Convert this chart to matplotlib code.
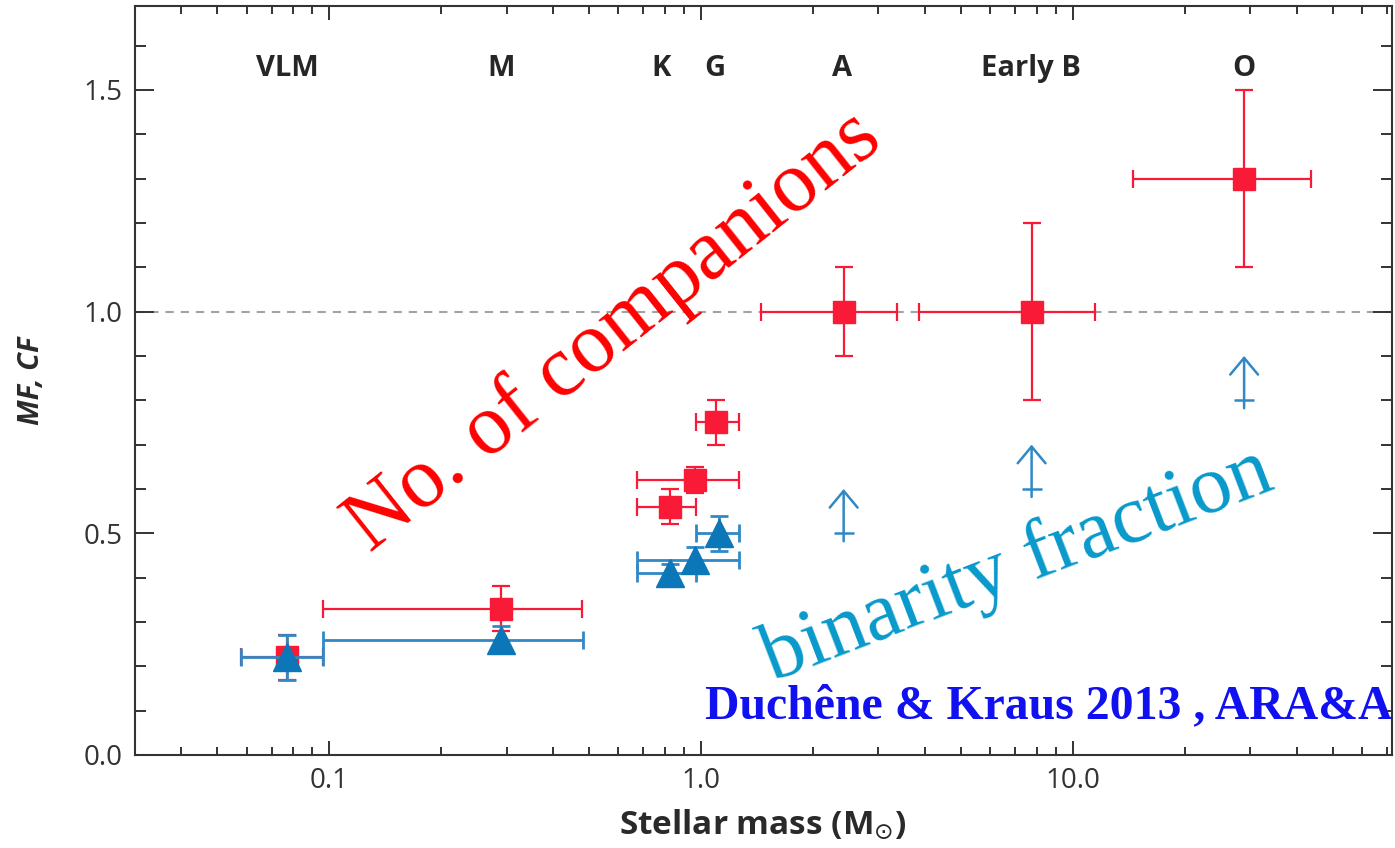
import numpy as np
import matplotlib.pyplot as plt
from matplotlib.ticker import LogLocator, NullFormatter, MultipleLocator

plt.rcParams['font.family'] = ['Open Sans', 'DejaVu Sans']

# spectral classes written along the top of the panel
class_names = ['VLM', 'M', 'K', 'G', 'A', 'Early B', 'O']
class_mass = [0.077, 0.29, 0.78, 1.09, 2.4, 7.7, 28.9]

# companion frequency CF (red squares)
cf_mass = [0.077, 0.29, 0.823, 0.965, 1.10, 2.42, 7.75, 28.9]
cf_mass_lo = [0.058, 0.096, 0.673, 0.673, 0.969, 1.45, 3.87, 14.5]
cf_mass_hi = [0.096, 0.48, 0.969, 1.267, 1.267, 3.37, 11.5, 43.8]
cf = [0.22, 0.33, 0.56, 0.62, 0.75, 1.00, 1.00, 1.30]
cf_err = [0.05, 0.05, 0.04, 0.03, 0.05, 0.10, 0.20, 0.20]

# multiplicity frequency MF (blue triangles)
mf_mass = [0.077, 0.29, 0.823, 0.965, 1.115]
mf_mass_lo = [0.058, 0.096, 0.673, 0.673, 0.969]
mf_mass_hi = [0.096, 0.483, 0.969, 1.267, 1.267]
mf = [0.22, 0.26, 0.41, 0.44, 0.50]
mf_err = [0.05, 0.03, 0.02, 0.03, 0.04]

# MF lower limits for the massive stars
lim_mass = [2.42, 7.75, 28.9]
lim_mf = [0.5, 0.6, 0.8]

red = '#f81a36'
blue = '#0b77b8'
blue_bar = '#3088c6'
dark = '#333333'

fig = plt.figure(figsize=(13.95, 8.48), dpi=100)
ax = fig.add_axes([0.0966, 0.1097, 0.9009, 0.8836])

ax.axhline(1.0, color='#a3a3a3', lw=1.5, ls=(0, (4, 3.3)), zorder=1)

def xerr_of(m, lo, hi):
    m, lo, hi = map(np.asarray, (m, lo, hi))
    return [m - lo, hi - m]

ax.errorbar(cf_mass, cf, yerr=cf_err, xerr=xerr_of(cf_mass, cf_mass_lo, cf_mass_hi),
            fmt='s', ms=16, color=red, mec=red, ecolor=red,
            elinewidth=1.6, capsize=6.5, capthick=1.6, zorder=3)

ax.errorbar(mf_mass, mf, yerr=mf_err, xerr=xerr_of(mf_mass, mf_mass_lo, mf_mass_hi),
            fmt='^', ms=20, color=blue, mec=blue, ecolor=blue_bar,
            elinewidth=2.0, capsize=6.5, capthick=2.0, zorder=4)

# lower limits: bar at the value, open arrow pointing up
for m, v in zip(lim_mass, lim_mf):
    ax.plot(m, v, marker='_', ms=15, mew=1.8, color=blue_bar, zorder=4)
    ax.annotate('', xy=(m, v + 0.1), xytext=(m, v - 0.018),
                arrowprops=dict(arrowstyle='->,head_length=0.6,head_width=0.5',
                                color=blue_bar, lw=1.8, mutation_scale=20,
                                shrinkA=0, shrinkB=0), zorder=4)

for name, m in zip(class_names, class_mass):
    ax.text(m, 1.548, name, ha='center', va='center', fontsize=21,
            fontweight='bold', color='#262626')

ax.set_xscale('log')
ax.set_xlim(0.03, 72)
ax.set_ylim(0, 1.69)
ax.set_xticks([0.1, 1, 10])
ax.set_xticklabels(['0.1', '1.0', '10.0'])
ax.xaxis.set_minor_locator(LogLocator(base=10, subs=np.arange(2, 10)))
ax.xaxis.set_minor_formatter(NullFormatter())
ax.set_yticks([0, 0.5, 1.0, 1.5])
ax.set_yticklabels(['0.0', '0.5', '1.0', '1.5'])
ax.yaxis.set_minor_locator(MultipleLocator(0.1))

for s in ax.spines.values():
    s.set_color(dark)
    s.set_linewidth(1.5)

ax.tick_params(axis='both', which='both', direction='in', top=True, right=True,
               color=dark, width=1.4, labelcolor='#333333', labelsize=20)
ax.tick_params(axis='x', which='major', length=10, pad=9)
ax.tick_params(axis='x', which='minor', length=6)
ax.tick_params(axis='y', which='major', length=14, pad=9)
ax.tick_params(axis='y', which='minor', length=8)

ax.set_xlabel('Stellar mass (M$_{\\odot}$)', fontsize=24, fontweight='bold',
              color='#2a2a2a')
ax.xaxis.set_label_coords(0.5, -0.071)
ax.set_ylabel('MF, CF', fontsize=21, fontweight='bold', fontstyle='italic',
              color='#2a2a2a')
ax.yaxis.set_label_coords(-0.0705, 0.5)

# hand-written style notes over the plot
serif = ['Liberation Serif', 'DejaVu Serif']
fig.text(0.4400, 0.6080, 'No. of companions', family=serif, fontsize=62,
         color='#ff0000', rotation=38.5, rotation_mode='anchor',
         ha='center', va='center')
fig.text(0.7290, 0.3330, 'binarity fraction', family=serif, fontsize=60,
         color='#0899cb', rotation=21, rotation_mode='anchor',
         ha='center', va='center')
fig.text(0.5054, 0.1533, 'Duchêne & Kraus 2013 , ARA&A', family=serif,
         fontsize=34.4, fontweight='bold', color='#1010f0',
         ha='left', va='baseline')

fig.savefig('out.png', dpi=100)
